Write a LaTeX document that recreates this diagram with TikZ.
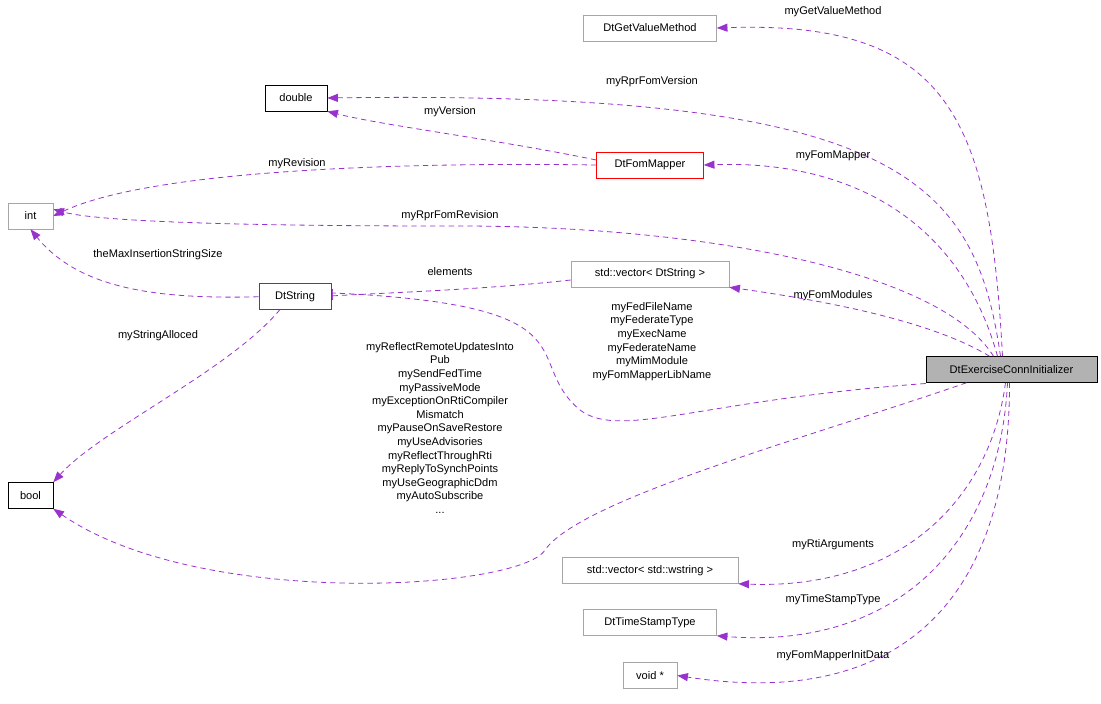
\documentclass[tikz,border=0pt]{standalone}
\usepackage{fontspec}
\setmainfont{Liberation Sans}
\usetikzlibrary{arrows.meta}
\definecolor{edge}{RGB}{153,50,204}
\begin{document}
\begin{tikzpicture}[x=0.75pt,y=-0.75pt,
 box/.style={draw,rectangle,inner sep=0pt,minimum height=19.5pt,font=\fontsize{8.3}{10}\selectfont},
 grbox/.style={box,draw=black!35},
 redbox/.style={box,draw=red},
 blkbox/.style={box,draw=black},
 e/.style={draw=edge,line width=0.6pt,dash pattern=on 4pt off 3pt,-{Triangle[length=8pt,width=6pt]},fill=none},
 lbl/.style={font=\fontsize{8.3}{10.2}\selectfont,align=center,inner sep=0pt}]
\useasboundingbox (0,0) rectangle (1101,704);
\node[grbox,minimum width=99.75pt] (gvm) at (650,28) {DtGetValueMethod};
\node[blkbox,minimum width=46.5pt] (dbl) at (296,98) {double};
\node[redbox,minimum width=80.25pt] (fom) at (650,165) {DtFomMapper};
\node[grbox,minimum width=33.75pt] (int) at (30.5,216) {int};
\node[grbox,minimum width=118.5pt] (vds) at (650,274) {std::vector< DtString >};
\node[grbox,minimum width=99.75pt] (tst) at (650,622.5) {DtTimeStampType};
\node[blkbox,fill=black!30,minimum width=128.25pt] (main) at (1011.5,369.5) {DtExerciseConnInitializer};
\node[blkbox,minimum width=33.75pt] (bool) at (30.5,495.5) {bool};
\node[grbox,minimum width=132pt] (vws) at (650,570.5) {std::vector< std::wstring >};
\node[grbox,minimum width=40.5pt] (void) at (650,675.5) {void *};

\draw[e] (main.north) ++(-9,0) .. controls (990,120) and (950,20) .. (gvm.east);
\draw[e] (main.north) ++(-11,0) .. controls (975,180) and (900,90) .. (dbl.east);
\draw[e] (fom.west) ++(0,-5) .. controls (500,140) and (380,125) .. (dbl.south east);
\draw[e] (fom.west) .. controls (400,162) and (150,170) .. (int.east);
\draw[e] (main.north) ++(-14,0) .. controls (960,220) and (850,160) .. (fom.east);
\draw[e] (main.north) ++(-18,0) .. controls (940,270) and (700,225) .. (450,226) .. controls (250,226) and (100,222) .. ([yshift=5]int.east);
\coordinate (dsw) at (268,296.5);
\coordinate (dse) at (322,296.5);
\coordinate (dss) at (280,309.5);
\draw[e] (dsw) .. controls (160,300) and (80,290) .. (int.south);
\draw[e] (vds.west) ++(0,6) .. controls (480,290) and (380,293) .. (dse);
\draw[e] (main.north) ++(-22,0) .. controls (930,320) and (820,300) .. (vds.south east);
\draw[e] (main.west) ++(0,14) .. controls (700,400) and (620,440) .. (580,410) .. controls (520,360) and (600,305) .. ([yshift=3]dse);
\draw[e] (dss) .. controls (230,370) and (100,430) .. (bool.north east);
\draw[e] (main.south) ++(-45,0) .. controls (800,440) and (580,500) .. (545,550) .. controls (520,590) and (200,610) .. (bool.south east);
\draw[e] (main.south) ++(-6,0) .. controls (990,500) and (900,590) .. (vws.south east);
\draw[e] (main.south) ++(-4,0) .. controls (1000,540) and (900,650) .. (tst.south east);
\draw[e] (main.south) ++(-2,0) .. controls (1010,600) and (900,710) .. (void.east);
\node[box,draw=red,fill=white,minimum width=54pt] (dts) at (295,296.5) {DtString};

\node[lbl] (l1) at (833,12) {myGetValueMethod};
\node[lbl] (l2) at (652,82) {myRprFomVersion};
\node[lbl] (l3) at (450,112) {myVersion};
\node[lbl] (l4) at (297,164) {myRevision};
\node[lbl] (l5) at (833,156) {myFomMapper};
\node[lbl] (l6) at (450,216) {myRprFomRevision};
\node[lbl] (l7) at (158,255) {theMaxInsertionStringSize};
\node[lbl] (l8) at (450,272) {elements};
\node[lbl] (l9) at (833,296) {myFomModules};
\node[lbl,anchor=north] (l10) at (652,302) {myFedFileName\\myFederateType\\myExecName\\myFederateName\\myMimModule\\myFomMapperLibName};
\node[lbl] (l11) at (158,336) {myStringAlloced};
\node[lbl,anchor=north] (l12) at (440,342) {myReflectRemoteUpdatesInto\\Pub\\mySendFedTime\\myPassiveMode\\myExceptionOnRtiCompiler\\Mismatch\\myPauseOnSaveRestore\\myUseAdvisories\\myReflectThroughRti\\myReplyToSynchPoints\\myUseGeographicDdm\\myAutoSubscribe\\...};
\node[lbl] (l13) at (833,545) {myRtiArguments};
\node[lbl] (l14) at (833,600) {myTimeStampType};
\node[lbl] (l15) at (833,656) {myFomMapperInitData};
\end{tikzpicture}
\end{document}
